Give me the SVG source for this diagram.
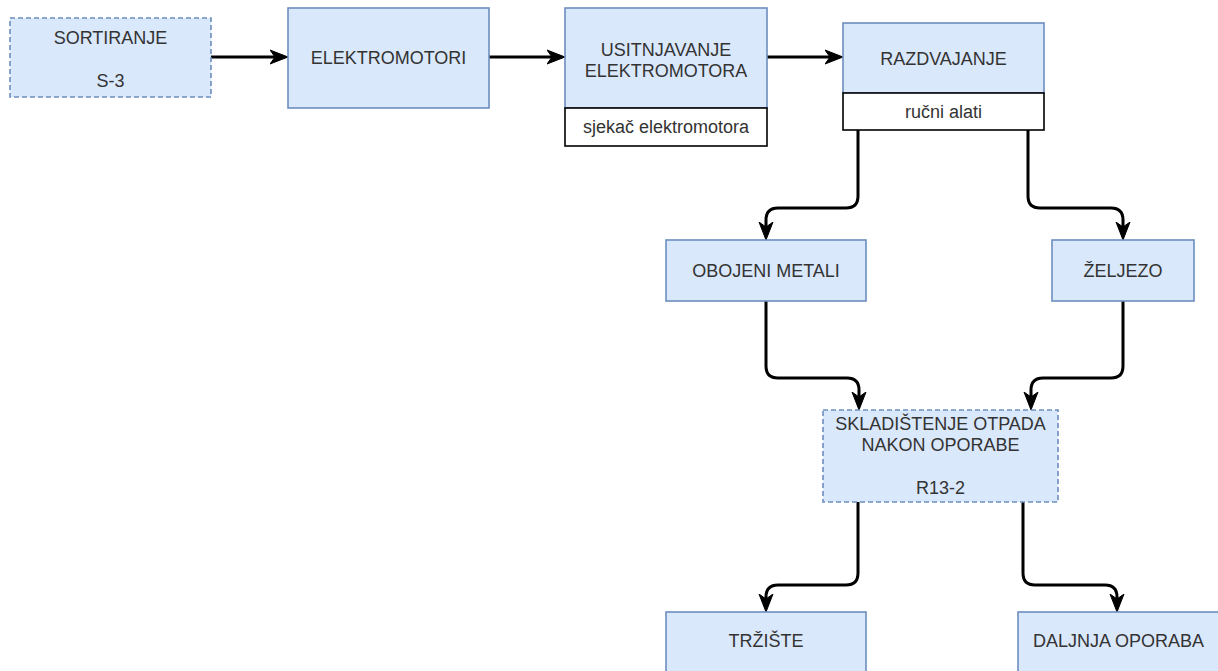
<svg xmlns="http://www.w3.org/2000/svg" width="1218" height="671" viewBox="0 0 1218 671">
  <style>
    .box { fill: #dae8fc; stroke: #6c8ebf; stroke-width: 1.6; }
    .dash { stroke-dasharray: 5 3; }
    .sub { fill: #ffffff; stroke: #000000; stroke-width: 1.6; }
    .lbl { font-family: "Liberation Sans", Arial, sans-serif; font-size: 18px; fill: #333333; text-anchor: middle; }
    .edge { fill: none; stroke: #000000; stroke-width: 3; }
  </style>
  <defs>
    <marker id="arrow" viewBox="0 0 18 16" refX="5" refY="8" markerWidth="18" markerHeight="16" markerUnits="userSpaceOnUse" orient="auto">
      <path d="M0,1 L18,8 L0,15 L5,8 Z" fill="#000000" stroke="#000000" stroke-width="1" stroke-linejoin="miter"/>
    </marker>
  </defs>

  <rect width="1218" height="671" fill="#ffffff"/>

  <!-- connectors -->
  <g id="connectors" marker-end="url(#arrow)">
    <path class="edge" d="M211,57 H275"/>
    <path class="edge" d="M489,57 H552"/>
    <path class="edge" d="M767,57 H830"/>
    <path class="edge" d="M858,130 V196 Q858,208 846,208 H778 Q766,208 766,220 V227"/>
    <path class="edge" d="M1028,130 V196 Q1028,208 1040,208 H1111 Q1123,208 1123,220 V227"/>
    <path class="edge" d="M766,301 V366 Q766,378 778,378 H847 Q859,378 859,390 V397"/>
    <path class="edge" d="M1123,301 V366 Q1123,378 1111,378 H1043 Q1031,378 1031,390 V397"/>
    <path class="edge" d="M858,502 V573 Q858,585 846,585 H778 Q766,585 766,597 V599"/>
    <path class="edge" d="M1023,502 V573 Q1023,585 1035,585 H1105 Q1117,585 1117,597 V599"/>
  </g>

  <!-- sorting step -->
  <g id="sortiranje">
    <rect class="box dash" x="10" y="18" width="201" height="79"/>
    <text class="lbl" x="110.5" y="44">SORTIRANJE</text>
    <text class="lbl" x="110.5" y="87">S-3</text>
  </g>

  <g id="elektromotori">
    <rect class="box" x="288" y="8" width="201" height="100"/>
    <text class="lbl" x="388.5" y="64">ELEKTROMOTORI</text>
  </g>

  <g id="usitnjavanje">
    <rect class="box" x="565" y="8" width="202" height="100"/>
    <text class="lbl" x="666" y="56">USITNJAVANJE</text>
    <text class="lbl" x="666" y="77">ELEKTROMOTORA</text>
    <rect class="sub" x="565" y="108" width="202" height="38"/>
    <text class="lbl" x="666" y="133">sjekač elektromotora</text>
  </g>

  <g id="razdvajanje">
    <rect class="box" x="843" y="23" width="201" height="70"/>
    <text class="lbl" x="943.5" y="65">RAZDVAJANJE</text>
    <rect class="sub" x="843" y="93" width="201" height="37"/>
    <text class="lbl" x="943.5" y="118">ručni alati</text>
  </g>

  <g id="obojeni-metali">
    <rect class="box" x="666" y="240" width="200" height="61"/>
    <text class="lbl" x="766" y="277">OBOJENI METALI</text>
  </g>

  <g id="zeljezo">
    <rect class="box" x="1052" y="240" width="142" height="61"/>
    <text class="lbl" x="1123" y="277">ŽELJEZO</text>
  </g>

  <!-- storage after recovery -->
  <g id="skladistenje">
    <rect class="box dash" x="823" y="410" width="235" height="92"/>
    <text class="lbl" x="940.5" y="430">SKLADIŠTENJE OTPADA</text>
    <text class="lbl" x="940.5" y="451">NAKON OPORABE</text>
    <text class="lbl" x="940.5" y="494">R13-2</text>
  </g>

  <g id="trziste">
    <rect class="box" x="666" y="612" width="200" height="70"/>
    <text class="lbl" x="766" y="647">TRŽIŠTE</text>
  </g>

  <g id="daljnja-oporaba">
    <rect class="box" x="1018" y="612" width="201" height="70"/>
    <text class="lbl" x="1118.5" y="647">DALJNJA OPORABA</text>
  </g>
</svg>
